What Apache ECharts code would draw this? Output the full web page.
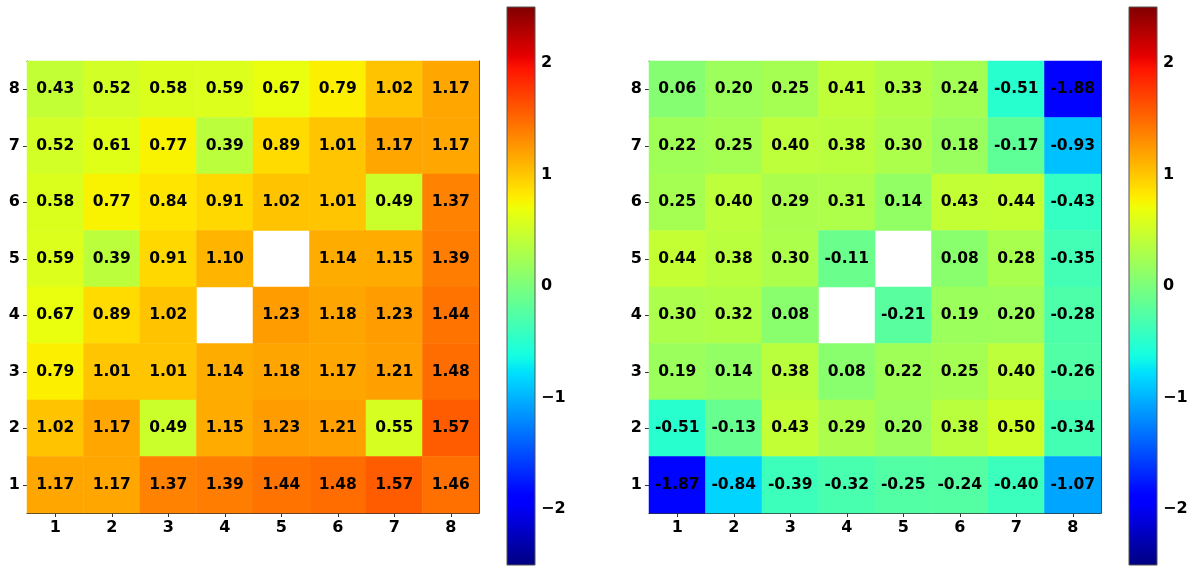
<!DOCTYPE html>
<html>
<head>
<meta charset="utf-8">
<script src="https://cdn.jsdelivr.net/npm/echarts@6/dist/echarts.min.js"></script>
<style>
html,body{margin:0;padding:0;background:#fff;}
#chart{width:1194px;height:566px;}
</style>
</head>
<body>
<div id="chart"></div>
<script>
// Axis categories (bottom-to-top for y, left-to-right for x)
const xCategories = ['1','2','3','4','5','6','7','8'];
const yCategories = ['1','2','3','4','5','6','7','8'];
const colorbarTicks = [-2, -1, 0, 1, 2];
const colorMin = -2.5;
const colorMax = 2.5;

// Rows listed top (y=8) to bottom (y=1); null = empty cell
const leftValues = [
  [0.43, 0.52, 0.58, 0.59, 0.67, 0.79, 1.02, 1.17],
  [0.52, 0.61, 0.77, 0.39, 0.89, 1.01, 1.17, 1.17],
  [0.58, 0.77, 0.84, 0.91, 1.02, 1.01, 0.49, 1.37],
  [0.59, 0.39, 0.91, 1.10, null, 1.14, 1.15, 1.39],
  [0.67, 0.89, 1.02, null, 1.23, 1.18, 1.23, 1.44],
  [0.79, 1.01, 1.01, 1.14, 1.18, 1.17, 1.21, 1.48],
  [1.02, 1.17, 0.49, 1.15, 1.23, 1.21, 0.55, 1.57],
  [1.17, 1.17, 1.37, 1.39, 1.44, 1.48, 1.57, 1.46]
];
const rightValues = [
  [0.06, 0.20, 0.25, 0.41, 0.33, 0.24, -0.51, -1.88],
  [0.22, 0.25, 0.40, 0.38, 0.30, 0.18, -0.17, -0.93],
  [0.25, 0.40, 0.29, 0.31, 0.14, 0.43, 0.44, -0.43],
  [0.44, 0.38, 0.30, -0.11, null, 0.08, 0.28, -0.35],
  [0.30, 0.32, 0.08, null, -0.21, 0.19, 0.20, -0.28],
  [0.19, 0.14, 0.38, 0.08, 0.22, 0.25, 0.40, -0.26],
  [-0.51, -0.13, 0.43, 0.29, 0.20, 0.38, 0.50, -0.34],
  [-1.87, -0.84, -0.39, -0.32, -0.25, -0.24, -0.40, -1.07]
];

// matplotlib 'jet' colormap
function interp(pts, t) {
  for (let i = 0; i < pts.length - 1; i++) {
    const [x0, y0] = pts[i], [x1, y1] = pts[i + 1];
    if (t >= x0 && t <= x1) return y0 + (y1 - y0) * (t - x0) / (x1 - x0);
  }
  return pts[pts.length - 1][1];
}
function jet(t) {
  const r = interp([[0,0],[0.35,0],[0.66,1],[0.89,1],[1,0.5]], t);
  const g = interp([[0,0],[0.125,0],[0.375,1],[0.64,1],[0.91,0],[1,0]], t);
  const b = interp([[0,0.5],[0.11,1],[0.34,1],[0.65,0],[1,0]], t);
  const h = v => Math.round(v * 255);
  return 'rgb(' + h(r) + ',' + h(g) + ',' + h(b) + ')';
}
const N = 256;
const jetColors = [];
for (let i = 0; i < N; i++) jetColors.push(jet((i + 0.5) / N));
const gradientStops = [];
for (let i = 0; i <= 100; i++) gradientStops.push({ offset: i / 100, color: jet(1 - i / 100) });

function toData(rows) {
  const out = [];
  rows.forEach((row, r) => {
    const yi = rows.length - 1 - r;
    row.forEach((v, xi) => { if (v !== null) out.push([xi, yi, v]); });
  });
  return out;
}

const FONT = 'DejaVu Sans';
const labelStyle = { fontFamily: FONT, fontWeight: 'bold', fontSize: 16, color: '#000' };

function mainGrid(left) { return { left: left, top: 61, width: 452, height: 452, containLabel: false }; }
function cbGrid(left) { return { left: left, top: 7, width: 28, height: 558, containLabel: false }; }

const grids = [mainGrid(27), mainGrid(649), cbGrid(507), cbGrid(1129)];

const xAxes = [], yAxes = [];
[0, 1].forEach(g => {
  xAxes.push({
    type: 'category', data: xCategories, gridIndex: g, position: 'bottom',
    axisLine: { show: true, lineStyle: { color: '#333', width: 1 } },
    axisTick: { show: true, alignWithLabel: true, length: 4, lineStyle: { color: '#333' } },
    axisLabel: Object.assign({ margin: 7 }, labelStyle),
    splitLine: { show: false }
  });
  xAxes.push({
    type: 'category', data: xCategories, gridIndex: g, position: 'top',
    axisLine: { show: true, lineStyle: { color: '#333', width: 1 } },
    axisTick: { show: false }, axisLabel: { show: false }, splitLine: { show: false }
  });
  yAxes.push({
    type: 'category', data: yCategories, gridIndex: g, position: 'left',
    axisLine: { show: true, lineStyle: { color: '#333', width: 1 } },
    axisTick: { show: true, alignWithLabel: true, length: 4, lineStyle: { color: '#333' } },
    axisLabel: Object.assign({ margin: 7 }, labelStyle),
    splitLine: { show: false }
  });
  yAxes.push({
    type: 'category', data: yCategories, gridIndex: g, position: 'right',
    axisLine: { show: true, lineStyle: { color: '#333', width: 1 } },
    axisTick: { show: false }, axisLabel: { show: false }, splitLine: { show: false }
  });
});
[2, 3].forEach(g => {
  xAxes.push({ type: 'value', gridIndex: g, min: 0, max: 1, show: false });
  yAxes.push({
    type: 'value', gridIndex: g, min: colorMin, max: colorMax, position: 'right',
    axisLine: { show: false },
    axisTick: { show: true, length: 4, lineStyle: { color: '#333' }, customValues: colorbarTicks },
    axisLabel: Object.assign({ margin: 6, customValues: colorbarTicks,
      formatter: v => String(v).replace('-', '\u2212') }, labelStyle),
    splitLine: { show: false }
  });
});

function heatSeries(idx, rows) {
  return {
    type: 'heatmap', xAxisIndex: idx * 2, yAxisIndex: idx * 2, data: toData(rows),
    label: {
      show: true, fontFamily: FONT, fontWeight: 'bold', fontSize: 15.5, color: '#000',
      formatter: p => p.value[2].toFixed(2)
    },
    itemStyle: { borderWidth: 0 },
    emphasis: { disabled: true }
  };
}
function colorbarSeries(axisIdx) {
  return {
    type: 'custom', xAxisIndex: axisIdx, yAxisIndex: axisIdx, data: [[0, colorMax, 1, colorMin]],
    silent: true,
    renderItem: (params, api) => {
      const p0 = api.coord([api.value(0), api.value(1)]);
      const p1 = api.coord([api.value(2), api.value(3)]);
      return {
        type: 'rect',
        shape: { x: p0[0], y: p0[1], width: p1[0] - p0[0], height: p1[1] - p0[1] },
        style: { fill: new echarts.graphic.LinearGradient(0, 0, 0, 1, gradientStops), stroke: '#555', lineWidth: 1 }
      };
    }
  };
}

const chart = echarts.init(document.getElementById('chart'), null, { renderer: 'canvas' });
chart.setOption({
  backgroundColor: '#fff',
  animation: false,
  grid: grids,
  xAxis: xAxes,
  yAxis: yAxes,
  visualMap: [
    { show: false, type: 'continuous', min: colorMin, max: colorMax, dimension: 2, seriesIndex: 0, inRange: { color: jetColors } },
    { show: false, type: 'continuous', min: colorMin, max: colorMax, dimension: 2, seriesIndex: 1, inRange: { color: jetColors } }
  ],
  series: [heatSeries(0, leftValues), heatSeries(1, rightValues), colorbarSeries(4), colorbarSeries(5)]
});
</script>
</body>
</html>
